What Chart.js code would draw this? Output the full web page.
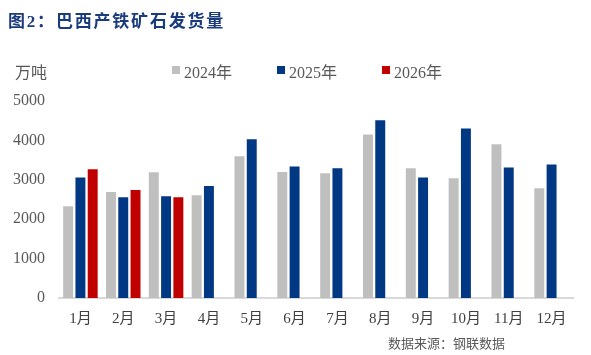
<!DOCTYPE html>
<html>
<head>
<meta charset="utf-8">
<script src="https://cdn.jsdelivr.net/npm/chart.js@4"></script>
<style>
  html, body { margin: 0; padding: 0; background: #ffffff; }
  #wrap { position: relative; width: 591px; height: 355px; overflow: hidden; background: #fff; }
  #chartBox { position: absolute; left: 0; top: 0; width: 591px; height: 355px; }
  .txt { position: absolute; white-space: nowrap; font-family: "Liberation Serif", "Noto Sans CJK SC", serif; }
  #title { left: 8px; top: 7px; font-size: 17px; font-weight: bold; color: #1a3b7c; letter-spacing: 1.8px; }
  #unit { left: 15px; top: 59px; font-size: 16px; color: #595959; }
  #source { right: 86px; top: 333px; font-size: 13px; color: #595959; }
  .leg { position: absolute; top: 59px; font-size: 16px; color: #595959; font-family: "Liberation Serif", "Noto Sans CJK SC", serif; white-space: nowrap; }
  .leg i { position: absolute; left: -12px; top: 7px; width: 8px; height: 8px; }
</style>
</head>
<body>
<div id="wrap">
  <div id="chartBox"><canvas id="c"></canvas></div>
  <div id="title" class="txt">图2：巴西产铁矿石发货量</div>
  <div id="unit" class="txt">万吨</div>
  <div id="legend"></div>
  <div id="source" class="txt">数据来源：钢联数据</div>
</div>
<script>
const categories = ["1月","2月","3月","4月","5月","6月","7月","8月","9月","10月","11月","12月"];
const seriesNames = ["2024年","2025年","2026年"];
const values2024 = [2330, 2690, 3190, 2610, 3600, 3200, 3165, 4150, 3290, 3040, 3900, 2785];
const values2025 = [3060, 2560, 2580, 2840, 4030, 3340, 3290, 4510, 3060, 4300, 3315, 3390];
const values2026 = [3270, 2740, 2560, null, null, null, null, null, null, null, null, null];
const colors = ["#bfbfbf", "#003884", "#c00000"];
const yTicks = [0, 1000, 2000, 3000, 4000, 5000];

const datasets = [values2024, values2025, values2026].map((d, i) => ({
  label: seriesNames[i],
  data: d,
  backgroundColor: colors[i],
  borderWidth: 0,
  categoryPercentage: 0.86,
  barPercentage: 0.81
}));

// HTML legend built from the dataset labels/colours
const legendX = [184, 289, 394];
const legendEl = document.getElementById('legend');
datasets.forEach((ds, i) => {
  const s = document.createElement('span');
  s.className = 'leg';
  s.style.left = legendX[i] + 'px';
  s.textContent = ds.label;
  const b = document.createElement('i');
  b.style.background = ds.backgroundColor;
  s.appendChild(b);
  legendEl.appendChild(s);
});

new Chart(document.getElementById('c'), {
  type: 'bar',
  data: { labels: categories, datasets },
  options: {
    responsive: true,
    maintainAspectRatio: false,
    animation: false,
    layout: { padding: { top: 101, right: 18, bottom: 0, left: 12 } },
    plugins: { legend: { display: false }, tooltip: { enabled: false } },
    scales: {
      x: {
        afterFit: (ax) => { ax.height = 57; },
        grid: { display: false, drawTicks: false },
        border: { display: true, color: '#d9d9d9', width: 2 },
        ticks: {
          color: '#404040',
          padding: 12,
          font: { family: '"Liberation Serif", "Noto Sans CJK SC", serif', size: 15 }
        }
      },
      y: {
        min: 0, max: 5000,
        afterFit: (ax) => { ax.width = 47; },
        afterBuildTicks: (ax) => { ax.ticks = yTicks.map(v => ({ value: v })); },
        grid: { display: false, drawTicks: false },
        border: { display: false },
        ticks: {
          color: '#595959',
          padding: 14,
          callback: (v) => String(v),
          font: { family: '"Liberation Serif", serif', size: 16 }
        }
      }
    }
  }
});
</script>
</body>
</html>
